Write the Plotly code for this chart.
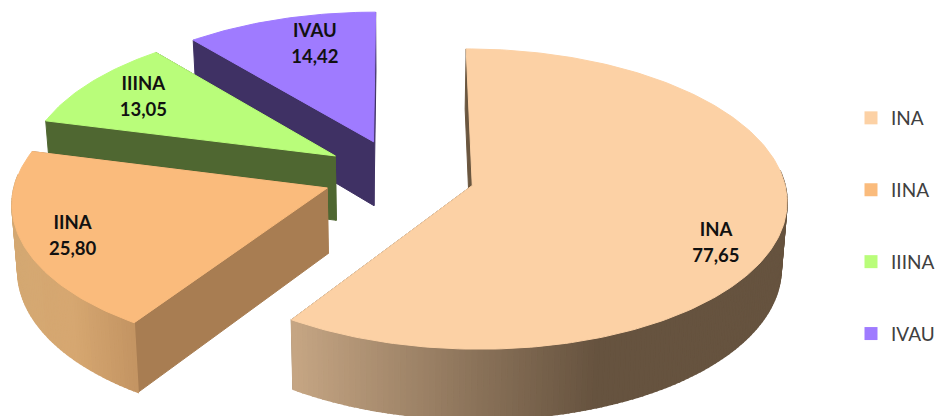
import math
import plotly.graph_objects as go

# ---- data ----
categories = ["INA", "IINA", "IIINA", "IVAU"]
values = [77.65, 25.80, 13.05, 14.42]
value_labels = ["77,65", "25,80", "13,05", "14,42"]
top_colors = ["#fcd1a5", "#fabb7c", "#b9fd7a", "#9f7bff"]
cut_colors = ["#6a563f", "#a87d52", "#4f6731", "#3f3164"]

# ---- pie projection settings ----
CX, CY = 401.0, 175.0
RX, RY = 312.5, 147.0
PERSP = 0.09
EXPLODE = 0.245
DEPTH_BACK, DEPTH_FRONT = 60.0, 70.0
SHRINK = 0.985
label_offsets = [(245, 46), (-256, 36), (-193, -71), (-59, -109)]
LINE_GAP = 26
wall_stops = {
    0: [(293, (198, 166, 132)), (480, (138, 114, 89)), (600, (102, 83, 63)), (800, (102, 83, 63))],
    1: [(10, (212, 168, 114)), (70, (214, 167, 113)), (135, (195, 148, 98))],
}


def project(x, y, z=0.0):
    s = 1.0 / (1.0 - PERSP * y)
    px = CX + RX * x * s
    py = CY + RY * y * s
    if z:
        h = DEPTH_BACK + (DEPTH_FRONT - DEPTH_BACK) * (y + 1) / 2
        px = CX + (px - CX) * SHRINK
        py = py + h
    return px, py


def rim(theta, ox, oy):
    return ox + math.sin(theta), oy - math.cos(theta)


def mix(stops, x):
    if x <= stops[0][0]:
        return stops[0][1]
    for (a, ca), (b, cb) in zip(stops, stops[1:]):
        if x <= b:
            t = (x - a) / (b - a)
            return tuple(round(p + (q - p) * t) for p, q in zip(ca, cb))
    return stops[-1][1]


def poly(pts, color, width=1.0):
    return go.Scatter(
        x=[p[0] for p in pts] + [pts[0][0]],
        y=[p[1] for p in pts] + [pts[0][1]],
        mode="lines", fill="toself", fillcolor=color,
        line=dict(color=color, width=width),
        hoverinfo="skip", showlegend=False,
    )


fig = go.Figure()
total = sum(values)
spans, start = [], 0.0
for v in values:
    spans.append((start, start + v / total * 2 * math.pi))
    start += v / total * 2 * math.pi

text_x, text_y, text_s = [], [], []
# painter's order: back slices first
for i in [3, 2, 1, 0]:
    a0, a1 = spans[i]
    mid = (a0 + a1) / 2
    ox, oy = EXPLODE * math.sin(mid), -EXPLODE * math.cos(mid)
    n = max(8, int((a1 - a0) / (2 * math.pi) * 360))
    angles = [a0 + (a1 - a0) * j / n for j in range(n + 1)]
    apex_top = project(ox, oy)
    apex_bot = project(ox, oy, 1)

    # two flat cut faces
    for t in (a1, a0):
        e = rim(t, ox, oy)
        fig.add_trace(poly([apex_top, project(*e), project(*e, 1), apex_bot], cut_colors[i]))

    # outer curved wall: only the part that faces the viewer
    for t0, t1 in zip(angles, angles[1:]):
        if -math.cos((t0 + t1) / 2) < -0.1:
            continue
        q = [project(*rim(t0, ox, oy)), project(*rim(t1, ox, oy)),
             project(*rim(t1, ox, oy), 1), project(*rim(t0, ox, oy), 1)]
        if i in wall_stops:
            c = mix(wall_stops[i], (q[0][0] + q[1][0]) / 2)
            col = "rgb(%d,%d,%d)" % c
        else:
            col = cut_colors[i]
        fig.add_trace(poly(q, col, 1.5))

    # top face
    pts = [apex_top] + [project(*rim(t, ox, oy)) for t in angles]
    fig.add_trace(poly(pts, top_colors[i]))

    dx, dy = label_offsets[i]
    text_x += [apex_top[0] + dx, apex_top[0] + dx]
    text_y += [apex_top[1] + dy, apex_top[1] + dy + LINE_GAP]
    text_s += [categories[i], value_labels[i]]

fig.add_trace(go.Scatter(
    x=text_x, y=text_y, text=["<b>%s</b>" % s for s in text_s], mode="text",
    textposition="middle center",
    textfont=dict(family="Lato", size=18.5, color="#111111"),
    hoverinfo="skip", showlegend=False,
))

# legend entries
for name, col in zip(categories, top_colors):
    fig.add_trace(go.Scatter(
        x=[None], y=[None], mode="markers", name=name, legendgroup=name,
        marker=dict(symbol="square", size=13, color=col),
    ))

fig.update_layout(
    width=940, height=416,
    margin=dict(l=0, r=0, t=0, b=0),
    paper_bgcolor="white", plot_bgcolor="white",
    xaxis=dict(range=[0, 940], visible=False, fixedrange=True),
    yaxis=dict(range=[416, 0], visible=False, fixedrange=True),
    legend=dict(
        x=856 / 940, y=1 - 99 / 416, xanchor="left", yanchor="top",
        tracegroupgap=44.2, traceorder="grouped", itemclick=False,
        font=dict(family="Lato", size=19, color="#404040"),
        bgcolor="rgba(0,0,0,0)",
    ),
)
fig.write_html("out.html", config={"displayModeBar": False},
               post_script="document.body.style.margin='0';document.body.style.overflow='hidden';")
